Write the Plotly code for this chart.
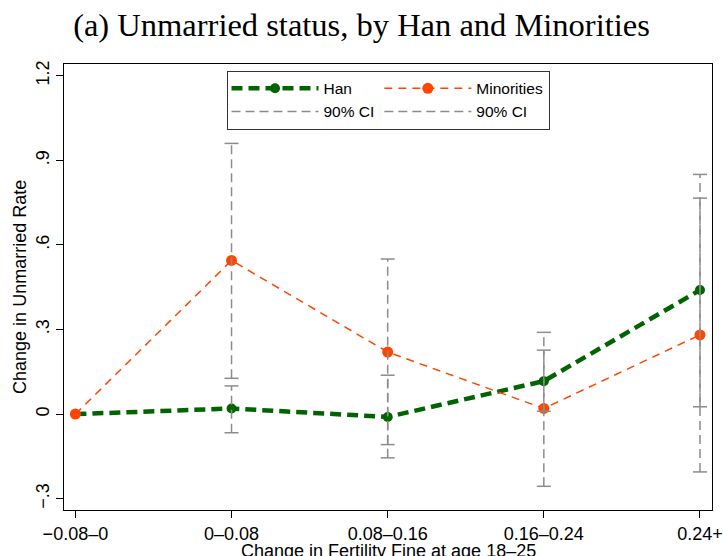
import plotly.graph_objects as go

categories = ["−0.08–0", "0–0.08", "0.08–0.16", "0.16–0.24", "0.24+"]
x_pos = [0, 1, 2, 3, 4]

han = [0.0, 0.02, -0.01, 0.117, 0.44]
minorities = [0.0, 0.545, 0.22, 0.02, 0.281]

ci_x = [1, 2, 3, 4]
han_lo = [-0.066, -0.108, 0.01, 0.026]
han_hi = [0.10, 0.138, 0.227, 0.766]
min_lo = [0.127, -0.155, -0.256, -0.205]
min_hi = [0.96, 0.55, 0.29, 0.85]

y_ticks = [-0.3, 0, 0.3, 0.6, 0.9, 1.2]
y_ticktext = ["−.3", "0", ".3", ".6", ".9", "1.2"]

x_title = "Change in Fertility Fine at age 18–25"
y_title = "Change in Unmarried Rate"

GREEN = "#006400"
ORANGE = "#ff4500"
GRAY = "#8c8c8c"

fig = go.Figure()

fig.add_trace(go.Scatter(
    x=x_pos, y=han, name="Han", mode="lines+markers", legendgroup="han",
    line=dict(color=GREEN, width=4.5, dash="11px,6px"),
    marker=dict(color=GREEN, size=10, symbol="circle"),
))
fig.add_trace(go.Scatter(
    x=x_pos, y=minorities, name="Minorities", mode="lines+markers", legendgroup="min",
    line=dict(color=ORANGE, width=1.5, dash="8px,6px"),
    marker=dict(color=ORANGE, size=11, symbol="circle"),
))


def ci_segments(xs, lo, hi):
    sx, sy = [], []
    for xv, l, h in zip(xs, lo, hi):
        sx += [xv, xv, None]
        sy += [l, h, None]
    return sx, sy


for key, lo, hi in (("han", han_lo, han_hi), ("min", min_lo, min_hi)):
    sx, sy = ci_segments(ci_x, lo, hi)
    fig.add_trace(go.Scatter(
        x=sx, y=sy, name="90% CI", mode="lines", legendgroup=key,
        line=dict(color=GRAY, width=1.5, dash="9px,5px"),
    ))
    fig.add_trace(go.Scatter(
        x=ci_x + ci_x, y=lo + hi, mode="markers", showlegend=False, legendgroup=key,
        marker=dict(symbol="line-ew", size=10, color=GRAY,
                    line=dict(color=GRAY, width=1.5)),
        hoverinfo="skip",
    ))

fig.update_layout(
    width=723, height=556,
    margin=dict(l=64, r=11, t=64, b=46, autoexpand=False),
    paper_bgcolor="white", plot_bgcolor="white",
    font=dict(family="Liberation Sans, Arial, sans-serif", size=18, color="black"),
    title=dict(text="(a) Unmarried status, by Han and Minorities",
               font=dict(family="Liberation Serif, serif", size=32.5, color="black"),
               x=0.5, xanchor="center", xref="container", y=0.955, yanchor="middle"),
    showlegend=True,
    legend=dict(orientation="h", x=0.5, xanchor="center", y=0.985, yanchor="top",
                bgcolor="white", bordercolor="#333333", borderwidth=1,
                font=dict(size=15.5), itemwidth=87,
                traceorder="grouped"),
    annotations=[
        dict(text=x_title, xref="paper", yref="paper", x=0.5, y=-0.0875,
             xanchor="center", yanchor="middle", showarrow=False, yshift=-2,
             font=dict(size=18)),
        dict(text=y_title, xref="paper", yref="paper", x=-0.068, y=0.5,
             xanchor="center", yanchor="middle", showarrow=False, textangle=-90,
             font=dict(size=18)),
    ],
)

fig.update_xaxes(
    range=[-0.073, 4.077], tickvals=x_pos, ticktext=categories, automargin=False,
    showgrid=False, zeroline=False, showline=True, linecolor="black", linewidth=1,
    mirror=True, ticks="outside", ticklen=7, tickcolor="black",
)
fig.update_yaxes(
    range=[-0.340, 1.2416], tickvals=y_ticks, ticktext=y_ticktext, tickangle=-90,
    automargin=False,
    showgrid=False, zeroline=False, showline=True, linecolor="black", linewidth=1,
    mirror=True, ticks="outside", ticklen=7, tickcolor="black",
)

fig.write_html("out.html")
